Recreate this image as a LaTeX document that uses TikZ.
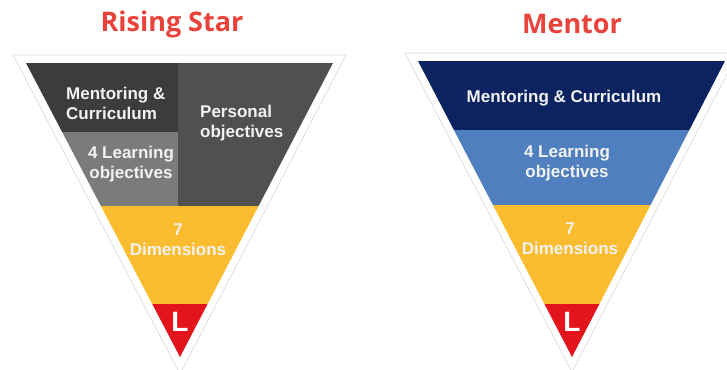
\documentclass[tikz,border=0pt]{standalone}
\usepackage{fontspec}
\setmainfont{Liberation Sans}
\newfontfamily\titlefont{Open Sans}
\definecolor{titlered}{HTML}{E9423A}
\definecolor{rsdark}{HTML}{3C3C3C}
\definecolor{rsmid}{HTML}{7B7B7B}
\definecolor{rsgrey}{HTML}{505050}
\definecolor{gold}{HTML}{FBBD2F}
\definecolor{lred}{HTML}{E3141C}
\definecolor{navy}{HTML}{0B2461}
\definecolor{steel}{HTML}{4F7FBE}
\tikzset{
  title/.style={text=titlered,font=\titlefont\bfseries\fontsize{27}{32}\selectfont},
  lbl/.style={text=white!95!black,font=\bfseries\fontsize{17}{20}\selectfont,align=center,inner sep=0pt},
  bigL/.style={text=white,font=\bfseries\fontsize{28}{30}\selectfont,inner sep=0pt},
  rim/.style={fill=white,draw=black!15,line width=0.6pt}
}
\begin{document}
\begin{tikzpicture}[x=1pt,y=-1pt]
    \useasboundingbox (0,0) rectangle (727,369);
    % Rising Star
    \node[title] (rsTitle) at (172,24) {Rising Star};
    \draw[rim] (13,55) -- (346,55) -- (180,374) -- cycle;
    \begin{scope}
    \clip (26,63) -- (333,63) -- (180,357) -- cycle;
    \fill[rsdark] (0,63) rectangle (178,132);
    \fill[rsmid] (0,132) rectangle (178,206);
    \fill[rsgrey] (178,63) rectangle (340,206);
    \fill[gold] (0,206) rectangle (340,304);
    \fill[lred] (0,304) rectangle (340,370);
    \end{scope}
    \node[lbl,align=left,anchor=west] (rsMentor) at (66,103) {Mentoring \&\\Curriculum};
    \node[lbl] (rsLearn) at (131,164) {4 Learning\\objectives};
    \node[lbl,align=left,anchor=west] (rsPersonal) at (200,123) {Personal\\objectives};
    \node[lbl] (rsDim) at (178,240) {7\\Dimensions};
    \node[bigL] (rsL) at (180,322) {L};
    % Mentor
    \node[title] (mTitle) at (572,24) {Mentor};
    \draw[rim] (405,53) -- (738,53) -- (572,372) -- cycle;
    \begin{scope}
    \clip (418,61) -- (725,61) -- (572,357) -- cycle;
    \fill[navy] (400,61) rectangle (730,130);
    \fill[steel] (400,130) rectangle (730,205);
    \fill[gold] (400,205) rectangle (730,304);
    \fill[lred] (400,304) rectangle (730,370);
    \end{scope}
    \node[lbl] (mMentor) at (564,98) {Mentoring \& Curriculum};
    \node[lbl] (mLearn) at (567,163) {4 Learning\\objectives};
    \node[lbl] (mDim) at (570,239) {7\\Dimensions};
    \node[bigL] (mL) at (572,322) {L};
\end{tikzpicture}
\end{document}
